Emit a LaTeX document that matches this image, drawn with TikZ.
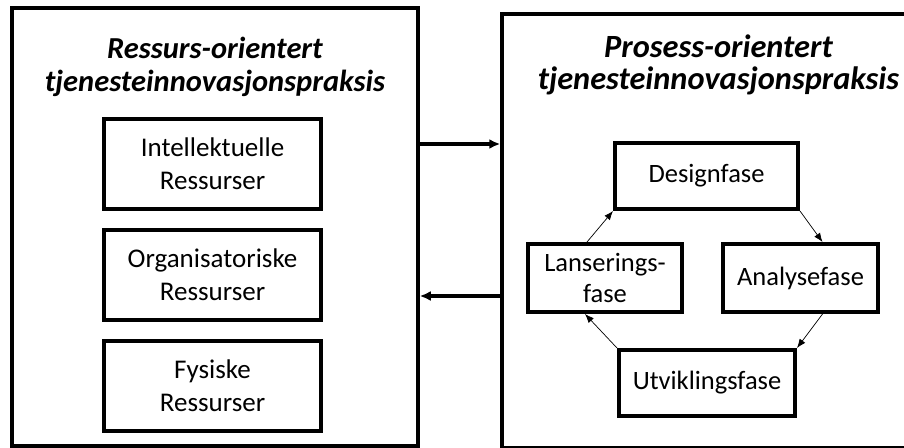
\documentclass[tikz,border=0pt]{standalone}
\usepackage{fontspec}
\setmainfont{Carlito}
\usetikzlibrary{arrows.meta, positioning}

\begin{document}
\begin{tikzpicture}[x=1pt,y=-1pt,
        node distance=17pt,
        ramme/.style={draw,line width=3.5pt,inner sep=0pt},
        tittel/.style={align=center,font=\bfseries\itshape\fontsize{30.5}{33}\selectfont},
        ressursboks/.style={draw,line width=4pt,minimum width=217pt,minimum height=90pt,align=center,font=\fontsize{27}{33}\selectfont},
        fase/.style={draw,line width=4pt,minimum height=66pt,align=center,inner sep=2pt,font=\fontsize{26.5}{31}\selectfont},
        pil/.style={-{Latex[length=11pt,width=10pt]},line width=3.5pt},
        tynn/.style={-{Latex[length=9pt,width=7pt]},line width=0.7pt}
    ]
        \useasboundingbox (0,0) rectangle (904,447);
        \clip (0,0) rectangle (904,447);

        % venstre side
        \node[ramme,minimum width=406pt,minimum height=438pt] (ressurs) at (215,227) {};
        \node[tittel] (rtittel) at (215,67) {Ressurs-orientert\\tjenesteinnovasjonspraksis};
        \node[ressursboks] (intell) at (212.5,164) {Intellektuelle\\Ressurser};
        \node[ressursboks,below=of intell] (org) {Organisatoriske\\Ressurser};
        \node[ressursboks,below=of org] (fys) {Fysiske\\Ressurser};

        % hoyre side
        \node[ramme,minimum width=428pt,minimum height=434pt] (prosess) at (716,231) {};
        \node[tittel,font=\bfseries\itshape\fontsize{32.4}{32}\selectfont] (ptittel) at (718.5,65) {Prosess-orientert\\tjenesteinnovasjonspraksis};
        \node[fase,minimum width=183pt] (design) at (706.5,176) {Designfase};
        \node[fase,minimum width=154pt,minimum height=68pt] (lans) at (605,278) {Lanserings-\\fase};
        \node[fase,minimum width=155pt,minimum height=68pt] (analyse) at (800.5,278) {Analysefase};
        \node[fase,minimum width=176pt] (utvikling) at (707,383) {Utviklingsfase};

        \draw[pil] (ressurs.east |- 0,144) -- (prosess.west |- 0,144);
        \draw[pil] (prosess.west |- 0,296) -- (ressurs.east |- 0,296);

        \draw[tynn] ([xshift=-18pt]lans.north) -- (design.south west);
        \draw[tynn] (design.south east) -- ([xshift=22pt]analyse.north);
        \draw[tynn] ([xshift=22pt]analyse.south) -- (utvikling.north east);
        \draw[tynn] (utvikling.north west) -- ([xshift=-20pt]lans.south);
    \end{tikzpicture}
\end{document}
